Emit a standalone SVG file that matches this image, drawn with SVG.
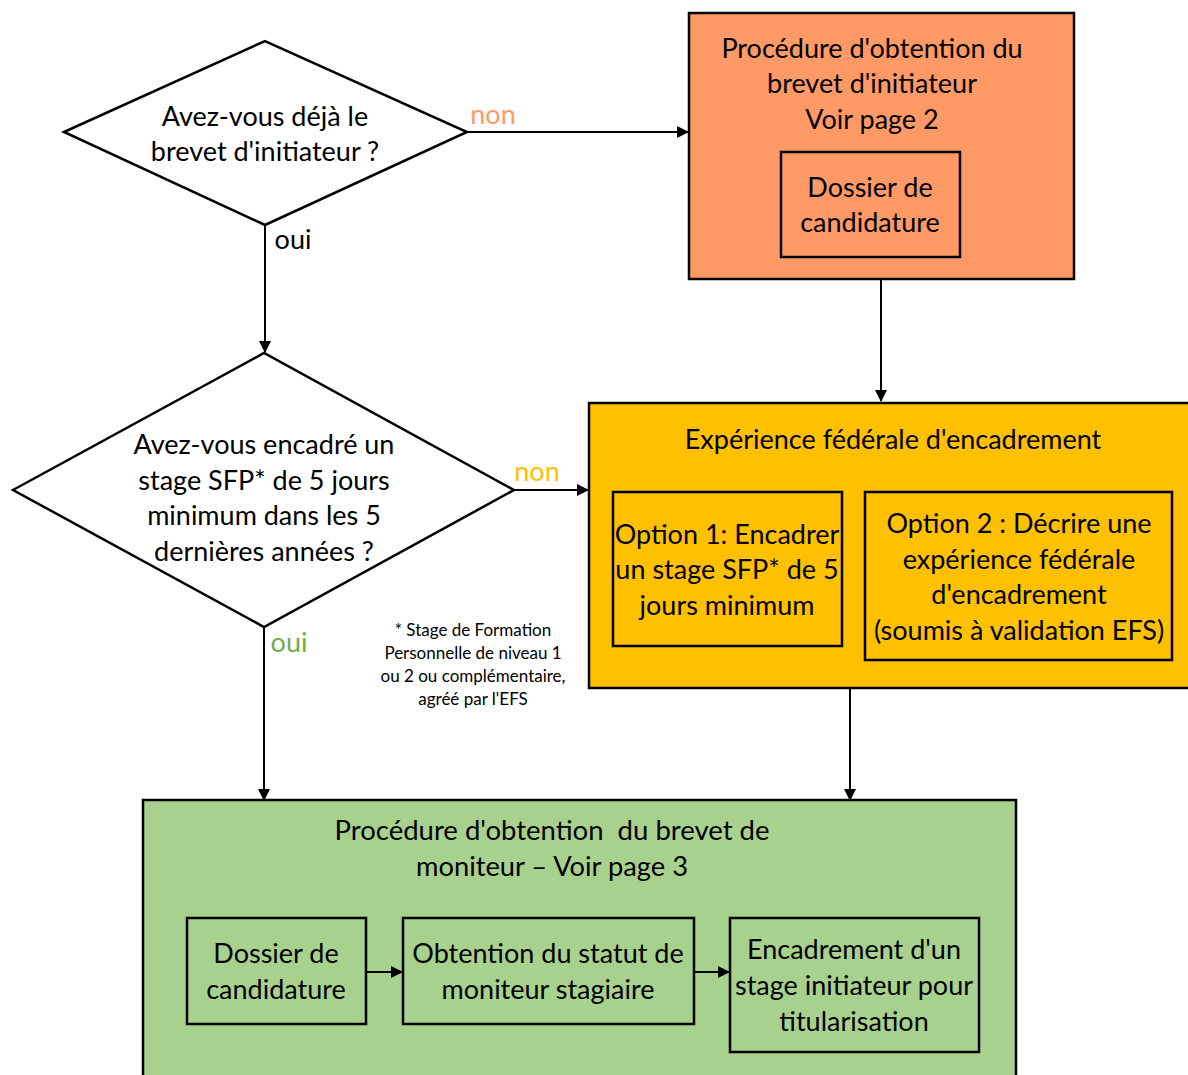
<svg xmlns="http://www.w3.org/2000/svg" width="1188" height="1075" viewBox="0 0 1188 1075">
<defs>
<marker id="ah" markerWidth="12" markerHeight="12" refX="11" refY="6" orient="auto" markerUnits="userSpaceOnUse">
<path d="M0,0 L12,6 L0,12 Z" fill="#000"/>
</marker>
<style>
.t{font-family:Lato,"Open Sans","Liberation Sans",sans-serif;font-size:27px;fill:#000;text-anchor:middle;white-space:pre}
.s{font-family:Lato,"Open Sans","Liberation Sans",sans-serif;font-size:17px;fill:#000;text-anchor:middle}
.box{stroke:#000;stroke-width:2.5}
.c{stroke:#000;stroke-width:2;fill:none}
</style>
</defs>
<rect width="1188" height="1075" fill="#fff"/>
<g id="q1">
<polygon class="box" points="64,132 265,41 467,132 265,225" fill="#fff"/>
<text class="t" x="265" y="126">Avez-vous déjà le</text>
<text class="t" x="265" y="161">brevet d'initiateur ?</text>
</g>
<g id="q2">
<polygon class="box" points="13,490 264,353 514,490 264,627" fill="#fff"/>
<text class="t" x="264" y="454">Avez-vous encadré un</text>
<text class="t" x="264" y="490">stage SFP* de 5 jours</text>
<text class="t" x="264" y="525">minimum dans les 5</text>
<text class="t" x="264" y="561">dernières années ?</text>
</g>
<g id="initiateur">
<rect class="box" x="689" y="13" width="385" height="266" fill="#FF9966"/>
<text class="t" x="872" y="58">Procédure d'obtention du</text>
<text class="t" x="872" y="93">brevet d'initiateur</text>
<text class="t" x="872" y="129">Voir page 2</text>
<rect class="box" x="781" y="152" width="179" height="105" fill="#FF9966"/>
<text class="t" x="870" y="197">Dossier de</text>
<text class="t" x="870" y="232">candidature</text>
</g>
<g id="experience">
<rect class="box" x="589" y="403" width="602" height="285" fill="#FFC000"/>
<text class="t" x="893" y="449">Expérience fédérale d'encadrement</text>
<rect class="box" x="613" y="492" width="229" height="154" fill="#FFC000"/>
<text class="t" x="727" y="544">Option 1: Encadrer</text>
<text class="t" x="727" y="579">un stage SFP* de 5</text>
<text class="t" x="727" y="615">jours minimum</text>
<rect class="box" x="865" y="492" width="307" height="168" fill="#FFC000"/>
<text class="t" x="1019" y="533">Option 2 : Décrire une</text>
<text class="t" x="1019" y="569">expérience fédérale</text>
<text class="t" x="1019" y="604">d'encadrement</text>
<text class="t" x="1019" y="640">(soumis à validation EFS)</text>
</g>
<g id="note">
<text class="s" x="473" y="636">* Stage de Formation</text>
<text class="s" x="473" y="659">Personnelle de niveau 1</text>
<text class="s" x="473" y="682">ou 2 ou complémentaire,</text>
<text class="s" x="473" y="705">agréé par l'EFS</text>
</g>
<g id="moniteur">
<rect class="box" x="143" y="800" width="873" height="290" fill="#A9D18E"/>
<text class="t" x="552" y="840" textLength="435" lengthAdjust="spacingAndGlyphs">Procédure d'obtention  du brevet de</text>
<text class="t" x="552" y="876" textLength="272" lengthAdjust="spacingAndGlyphs">moniteur – Voir page 3</text>
<g id="m1">
<rect class="box" x="187" y="918" width="179" height="106" fill="#A9D18E"/>
<text class="t" x="276" y="963">Dossier de</text>
<text class="t" x="276" y="999">candidature</text>
</g>
<g id="m2">
<rect class="box" x="403" y="918" width="291" height="106" fill="#A9D18E"/>
<text class="t" x="548" y="963">Obtention du statut de</text>
<text class="t" x="548" y="999">moniteur stagiaire</text>
</g>
<g id="m3">
<rect class="box" x="730" y="918" width="249" height="134" fill="#A9D18E"/>
<text class="t" x="854" y="959">Encadrement d'un</text>
<text class="t" x="854" y="995">stage initiateur pour</text>
<text class="t" x="854" y="1031">titularisation</text>
</g>
</g>
<g id="connectors">
<line class="c" x1="467" y1="132" x2="688" y2="132" marker-end="url(#ah)"/>
<line class="c" x1="265" y1="225" x2="265" y2="352" marker-end="url(#ah)"/>
<line class="c" x1="514" y1="490" x2="588" y2="490" marker-end="url(#ah)"/>
<line class="c" x1="264" y1="627" x2="264" y2="800" marker-end="url(#ah)"/>
<line class="c" x1="881" y1="280" x2="881" y2="401" marker-end="url(#ah)"/>
<line class="c" x1="850" y1="689" x2="850" y2="800" marker-end="url(#ah)"/>
<line class="c" x1="367" y1="972" x2="402" y2="972" marker-end="url(#ah)"/>
<line class="c" x1="695" y1="972" x2="729" y2="972" marker-end="url(#ah)"/>
<text class="t" x="493" y="124" style="fill:#FF9966">non</text>
<text class="t" x="293" y="249">oui</text>
<text class="t" x="537" y="481" style="fill:#FFC000">non</text>
<text class="t" x="289" y="652" style="fill:#70AD47">oui</text>
</g>
</svg>
